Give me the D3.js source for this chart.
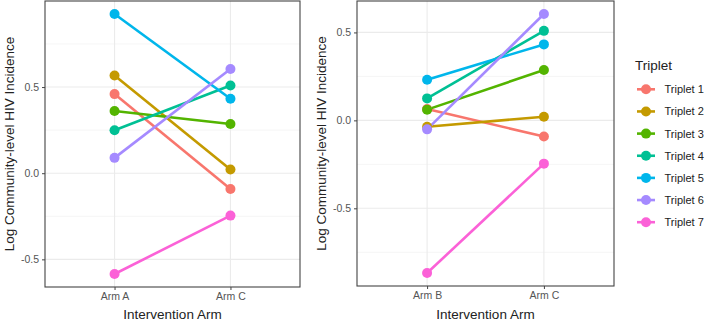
<!DOCTYPE html>
<html><head><meta charset="utf-8">
<script src="https://cdn.jsdelivr.net/npm/d3@7"></script>
<style>body{margin:0;background:#fff}svg{display:block}text{font-family:"Liberation Sans",Arial,sans-serif}</style>
</head><body>
<svg id="c" width="707" height="322"></svg>
<script>
const triplets = ["Triplet 1","Triplet 2","Triplet 3","Triplet 4","Triplet 5","Triplet 6","Triplet 7"];
const colors = ["#F8766D","#C49A00","#53B400","#00C094","#00B6EB","#A58AFF","#FB61D7"];
const armsLeft = ["Arm A","Arm C"];
const armsRight = ["Arm B","Arm C"];
const armA = [0.459, 0.567, 0.361, 0.249, 0.924, 0.089, -0.585];
const armB = [0.065, -0.036, 0.061, 0.125, 0.231, -0.051, -0.868];
const armC = [-0.092, 0.021, 0.286, 0.509, 0.432, 0.605, -0.246];
const yTicks = [-0.5, 0.0, 0.5];
const xTitle = "Intervention Arm";
const yTitle = "Log Community-level HIV Incidence";
const legendTitle = "Triplet";

const svg = d3.select("#c");

function panel(arms, first, second, box) {
  const g = svg.append("g");
  const all = first.concat(second);
  const lo = d3.min(all), hi = d3.max(all), pad = (hi - lo) * 0.05;
  const y = d3.scaleLinear().domain([lo - pad, hi + pad]).range([box.y1, box.y0]);
  const x = d3.scalePoint().domain(arms).range([box.x0, box.x1]).padding(0.6);
  // minor grid
  const [d0, d1] = y.domain();
  const minor = d3.range(Math.ceil(d0 / 0.25) * 0.25, d1, 0.25).filter(v => Math.abs(Math.round(v / 0.5) * 0.5 - v) > 1e-6);
  g.selectAll(".mn").data(minor).join("line")
    .attr("x1", box.x0).attr("x2", box.x1).attr("y1", d => y(d)).attr("y2", d => y(d))
    .attr("stroke", "#f2f2f2").attr("stroke-width", 0.8);
  g.selectAll(".mj").data(yTicks).join("line")
    .attr("x1", box.x0).attr("x2", box.x1).attr("y1", d => y(d)).attr("y2", d => y(d))
    .attr("stroke", "#ebebeb").attr("stroke-width", 1.1);
  g.selectAll(".vx").data(arms).join("line")
    .attr("x1", d => x(d)).attr("x2", d => x(d)).attr("y1", box.y0).attr("y2", box.y1)
    .attr("stroke", "#ebebeb").attr("stroke-width", 1.1);
  // lines
  triplets.forEach((t, i) => {
    g.append("line")
      .attr("x1", x(arms[0])).attr("y1", y(first[i]))
      .attr("x2", x(arms[1])).attr("y2", y(second[i]))
      .attr("stroke", colors[i]).attr("stroke-width", 2.6);
  });
  triplets.forEach((t, i) => {
    g.append("circle").attr("cx", x(arms[0])).attr("cy", y(first[i])).attr("r", 5).attr("fill", colors[i]);
    g.append("circle").attr("cx", x(arms[1])).attr("cy", y(second[i])).attr("r", 5).attr("fill", colors[i]);
  });
  // border
  g.append("rect").attr("x", box.x0).attr("y", box.y0).attr("width", box.x1 - box.x0).attr("height", box.y1 - box.y0)
    .attr("fill", "none").attr("stroke", "#444").attr("stroke-width", 1.1);
  // axes
  const ya = d3.axisLeft(y).tickValues(yTicks).tickFormat(d3.format(".1f")).tickSize(3).tickPadding(3);
  const yg = g.append("g").attr("transform", `translate(${box.x0},0)`).call(ya);
  yg.select(".domain").remove();
  yg.selectAll("line").attr("stroke", "#444");
  yg.selectAll("text").attr("fill", "#555").attr("font-size", 10.5).text(d => d3.format(".1f")(d).replace("−", "-"));
  const xa = d3.axisBottom(x).tickSize(3).tickPadding(3);
  const xg = g.append("g").attr("transform", `translate(0,${box.y1})`).call(xa);
  xg.select(".domain").remove();
  xg.selectAll("line").attr("stroke", "#444");
  xg.selectAll("text").attr("fill", "#555").attr("font-size", 10.5);
  // titles
  g.append("text").attr("x", (box.x0 + box.x1) / 2).attr("y", 319).attr("text-anchor", "middle")
    .attr("font-size", 13.5).attr("fill", "#222").text(xTitle);
  g.append("text").attr("transform", `translate(${box.x0 - 31},${(box.y0 + box.y1) / 2}) rotate(-90)`)
    .attr("text-anchor", "middle").attr("font-size", 13.5).attr("fill", "#222").text(yTitle);
}

panel(armsLeft, armA, armC, {x0: 45, x1: 300, y0: 1, y1: 287});
panel(armsRight, armB, armC, {x0: 357, x1: 614, y0: 1, y1: 286});

// legend
const lg = svg.append("g");
lg.append("text").attr("x", 635).attr("y", 70).attr("font-size", 13.5).attr("fill", "#222").text(legendTitle);
triplets.forEach((t, i) => {
  const cy = 89.3 + i * 22.15;
  lg.append("line").attr("x1", 637).attr("x2", 655).attr("y1", cy).attr("y2", cy).attr("stroke", colors[i]).attr("stroke-width", 2.6);
  lg.append("circle").attr("cx", 646).attr("cy", cy).attr("r", 5).attr("fill", colors[i]);
  lg.append("text").attr("x", 664.5).attr("y", cy + 4).attr("font-size", 11).attr("fill", "#222").text(t);
});
</script>
</body></html>
